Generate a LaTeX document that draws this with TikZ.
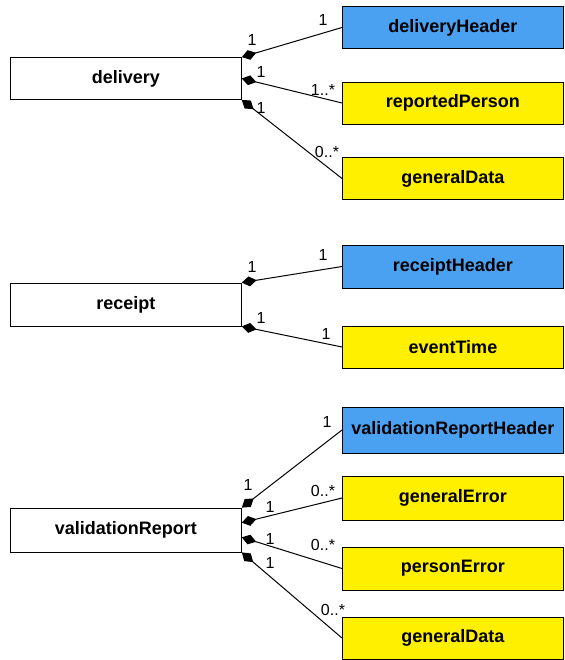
\documentclass[tikz,border=0pt]{standalone}
\usepackage{fontspec}
\setmainfont{Liberation Sans}
\usetikzlibrary{arrows.meta}
\definecolor{hdrblue}{RGB}{74,161,242}
\definecolor{partyellow}{RGB}{255,240,0}

\begin{document}
\begin{tikzpicture}[x=1pt,y=-1pt,
        owner/.style={draw,line width=0.8pt,minimum width=231pt,minimum height=42pt,
            inner sep=0pt,anchor=west,font=\fontsize{18}{18}\selectfont\bfseries},
        part/.style={owner,minimum width=221pt,fill=partyellow},
        header/.style={part,fill=hdrblue},
        comp/.style={line width=1pt,{Diamond[length=15pt,width=10pt]}-},
        mult/.style={font=\fontsize{16}{16}\selectfont,inner sep=0pt}]
        \useasboundingbox (0,0) rectangle (564,660);
        \pgfmathsetmacro\px{342}
        % delivery
        \node [owner] (delivery) at (10,78.5) {delivery};
        \node [header] (dHeader) at (\px,27.5) {deliveryHeader};
        \node [part] (dPerson) at (\px,103) {reportedPerson};
        \node [part] (dData) at (\px,178.5) {generalData};
        \draw [comp] (delivery.north east) -- (dHeader.west);
        \draw [comp] (delivery.east) -- (dPerson.west);
        \draw [comp] (delivery.south east) -- (dData.west);
        \node [mult] (d1a) at (252,40) {1};
        \node [mult] (d1b) at (323,20) {1};
        \node [mult] (d2a) at (261,72) {1};
        \node [mult] (d2b) at (323,90) {1..*};
        \node [mult] (d3a) at (261,108) {1};
        \node [mult] (d3b) at (327,152) {0..*};
        % receipt
        \node [owner,minimum height=43pt] (receipt) at (10,304.5) {receipt};
        \node [header,minimum height=43pt] (rHeader) at (\px,266.5) {receiptHeader};
        \node [part] (rTime) at (\px,347) {eventTime};
        \draw [comp] (receipt.north east) -- (rHeader.west);
        \draw [comp] (receipt.south east) -- (rTime.west);
        \node [mult] (r1a) at (252,267) {1};
        \node [mult] (r1b) at (323,255) {1};
        \node [mult] (r2a) at (261,318) {1};
        \node [mult] (r2b) at (326,334) {1};
        % validationReport
        \node [owner,minimum height=44pt] (vReport) at (10,530) {validationReport};
        \node [header,minimum height=46pt] (vHeader) at (\px,430) {validationReportHeader};
        \node [part,minimum height=44pt] (vError) at (\px,498) {generalError};
        \node [part,minimum height=43pt] (vPerson) at (\px,568.5) {personError};
        \node [part] (vData) at (\px,638) {generalData};
        \draw [comp] (vReport.north east) -- (vHeader.west);
        \draw [comp] ([yshift=7.3pt]vReport.east) -- (vError.west);
        \draw [comp] ([yshift=-7.3pt]vReport.east) -- (vPerson.west);
        \draw [comp] (vReport.south east) -- (vData.west);
        \node [mult] (v1a) at (248,485) {1};
        \node [mult] (v1b) at (327,422) {1};
        \node [mult] (v2a) at (270,507) {1};
        \node [mult] (v2b) at (323,491) {0..*};
        \node [mult] (v3a) at (270,539) {1};
        \node [mult] (v3b) at (323,545) {0..*};
        \node [mult] (v4a) at (270,563) {1};
        \node [mult] (v4b) at (333,610) {0..*};
\end{tikzpicture}
\end{document}
